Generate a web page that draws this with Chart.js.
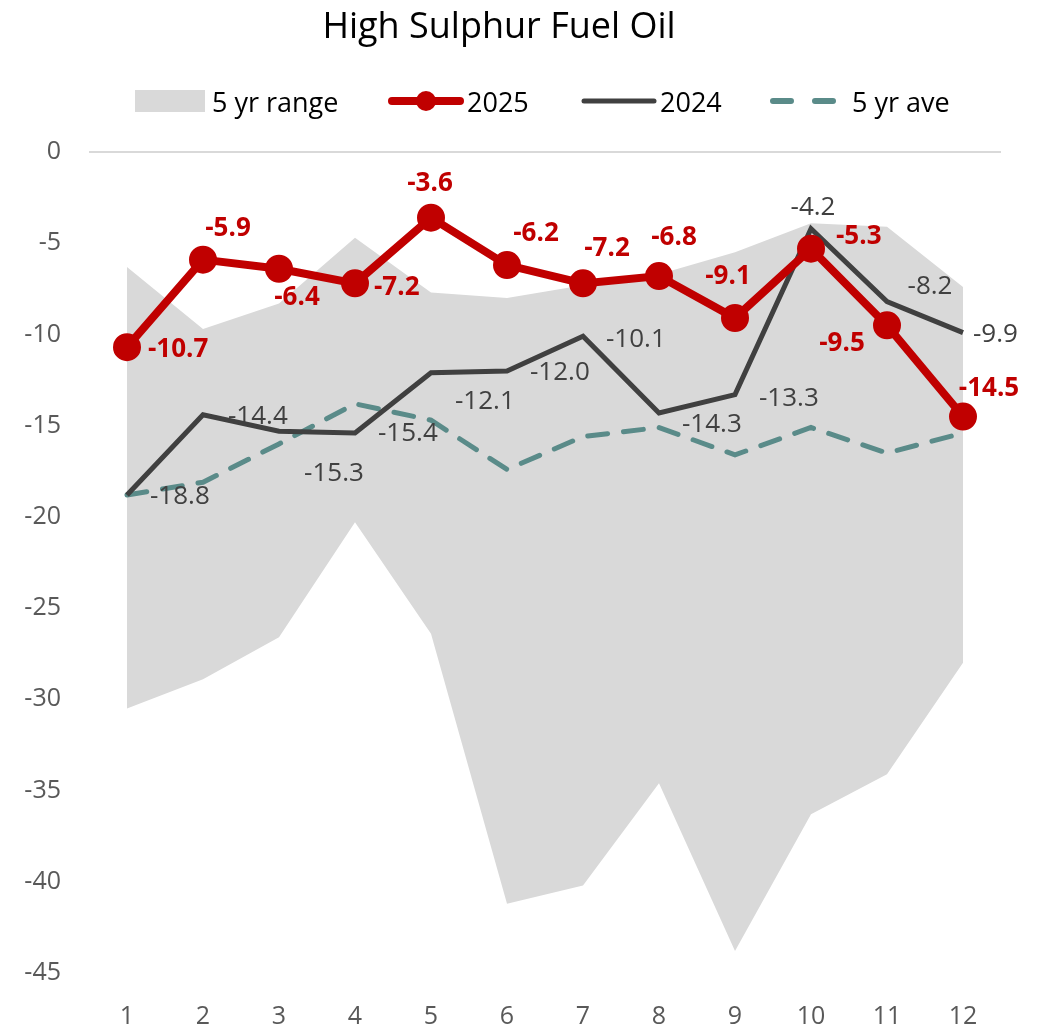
<!DOCTYPE html>
<html>
<head>
<meta charset="utf-8">
<script src="https://cdn.jsdelivr.net/npm/chart.js@4.4.1/dist/chart.umd.min.js"></script>
<style>
  body { margin: 0; background: #fff; }
  #wrap { position: relative; width: 1045px; height: 1029px; font-family: "Open Sans", sans-serif; }
  #title { position: absolute; left: 0; width: 998px; top: 0px; text-align: center; font-size: 36px; color: #000; }
  .leg { position: absolute; top: 84px; height: 34px; display: flex; align-items: center; font-size: 27px; color: #000; white-space: nowrap; }
  .leg svg { margin-right: 3px; }
</style>
</head>
<body>
<div id="wrap">
  <canvas id="myChart" width="1045" height="1029"></canvas>
  <div id="title">High Sulphur Fuel Oil</div>
  <div class="leg" style="left:135px"><svg width="74" height="24"><rect x="0" y="1" width="70" height="22" fill="#d9d9d9"/></svg>5 yr range</div>
  <div class="leg" style="left:388px"><svg width="76" height="26"><line x1="4" y1="13" x2="72" y2="13" stroke="#c00000" stroke-width="8" stroke-linecap="round"/><circle cx="38" cy="13" r="10" fill="#c00000"/></svg>2025</div>
  <div class="leg" style="left:581px"><svg width="76" height="26"><line x1="3" y1="13" x2="73" y2="13" stroke="#404040" stroke-width="5" stroke-linecap="round"/></svg>2024</div>
  <div class="leg" style="left:769px"><svg width="80" height="26"><line x1="4" y1="13" x2="68" y2="13" stroke="#5a8b89" stroke-width="6" stroke-linecap="round" stroke-dasharray="18 24"/></svg>5 yr ave</div>
</div>
<script>
const months = ['1', '2', '3', '4', '5', '6', '7', '8', '9', '10', '11', '12'];
const rangeLow = [-30.5, -28.9, -26.6, -20.3, -26.4, -41.2, -40.2, -34.6, -43.8, -36.3, -34.1, -28.0];
const rangeHigh = [-6.3, -9.7, -8.3, -4.7, -7.7, -8.0, -7.3, -6.7, -5.5, -3.9, -4.1, -7.4];
const y2025 = [-10.7, -5.9, -6.4, -7.2, -3.6, -6.2, -7.2, -6.8, -9.1, -5.3, -9.5, -14.5];
const y2024 = [-18.8, -14.4, -15.3, -15.4, -12.1, -12.0, -10.1, -14.3, -13.3, -4.2, -8.2, -9.9];
const aveFive = [-18.8, -18.1, -16.0, -13.8, -14.7, -17.4, -15.6, -15.1, -16.6, -15.1, -16.5, -15.4];

// label placement: [align, dx, dy] relative to the point
const pos2025 = [['left', 21, 2], ['center', 25, -31], ['center', 18, 29], ['left', 19, 4], ['center', -1, -34], ['center', 29, -32],
    ['center', 24, -35], ['center', 15, -38], ['center', -7, -41], ['left', 25, -12], ['center', -45, 18], ['center', 26, -28]];
const pos2024 = [['left', 23, 2], ['left', 25, 2], ['center', 55, 42], ['left', 23, 1], ['left', 24, 29], ['left', 23, 2],
    ['left', 23, 3], ['left', 23, 12], ['left', 24, 4], ['center', 2, -21], ['center', 43, -15], ['left', 10, 2]];

const labelPlugin = {
    id: 'pointLabels',
    afterDatasetsDraw(chart) {
        const ctx = chart.ctx;
        const sets = [
            { idx: 2, vals: y2025, pos: pos2025, font: 'bold 26px "Open Sans"', color: '#c00000' },
            { idx: 3, vals: y2024, pos: pos2024, font: '26px "Open Sans"', color: '#404040' }
        ];
        ctx.save();
        ctx.textBaseline = 'middle';
        sets.forEach(s => {
            const meta = chart.getDatasetMeta(s.idx);
            ctx.font = s.font;
            ctx.fillStyle = s.color;
            meta.data.forEach((pt, i) => {
                const p = s.pos[i];
                ctx.textAlign = p[0];
                ctx.fillText(s.vals[i].toFixed(1), pt.x + p[1], pt.y + p[2]);
            });
        });
        ctx.restore();
    }
};

const ctx = document.getElementById('myChart');
const myChart = new Chart(ctx, {
    type: 'line',
    data: {
        labels: months,
        datasets: [
            { label: 'low', data: rangeLow, borderWidth: 0, pointRadius: 0, fill: false, order: 5 },
            { label: '5 yr range', data: rangeHigh, borderWidth: 0, pointRadius: 0, fill: 0, backgroundColor: '#d9d9d9', order: 4 },
            { label: '2025', data: y2025, borderColor: '#c00000', backgroundColor: '#c00000', borderWidth: 8, pointRadius: 10, pointHoverRadius: 10, order: 0 },
            { label: '2024', data: y2024, borderColor: '#404040', borderWidth: 5, pointRadius: 0, order: 1 },
            { label: '5 yr ave', data: aveFive, borderColor: '#5a8b89', borderWidth: 5, borderDash: [20, 16], borderCapStyle: 'round', pointRadius: 0, order: 2 }
        ]
    },
    options: {
        responsive: false,
        animation: false,
        layout: { padding: { top: 152, right: 44, bottom: 0, left: 0 } },
        plugins: {
            legend: { display: false },
            title: { display: false },
            tooltip: { enabled: false }
        },
        scales: {
            x: {
                offset: true,
                grid: { display: false },
                border: { display: false },
                ticks: { color: '#595959', font: { family: 'Open Sans', size: 25 }, padding: 21 },
                afterFit: (scale) => { scale.height = 56; }
            },
            y: {
                min: -45,
                max: 0,
                grid: {
                    drawTicks: false,
                    lineWidth: 2,
                    color: (c) => c.tick && c.tick.value === 0 ? '#d9d9d9' : 'rgba(0,0,0,0)'
                },
                border: { display: false },
                ticks: { stepSize: 5, color: '#595959', font: { family: 'Open Sans', size: 25 }, padding: 28 },
                afterFit: (scale) => { scale.width = 89; }
            }
        }
    },
    plugins: [labelPlugin]
});
</script>
</body>
</html>
